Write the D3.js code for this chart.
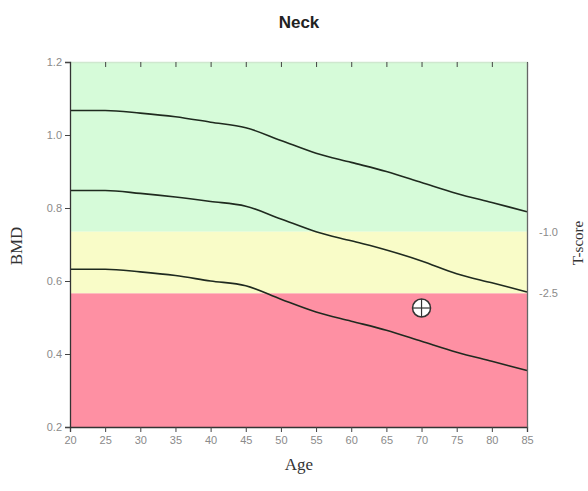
<!DOCTYPE html>
<html><head><meta charset="utf-8">
<script src="https://cdn.jsdelivr.net/npm/d3@7"></script>
<style>body{margin:0;background:#fff;} svg{display:block;}</style>
</head><body>
<svg id="c" width="588" height="491"></svg>
<script>
const ages = [20,25,30,35,40,45,50,55,60,65,70,75,80,85];
const upperCurve = [1.067,1.067,1.06,1.05,1.035,1.02,0.985,0.95,0.925,0.90,0.87,0.84,0.815,0.79];
const middleCurve = [0.848,0.848,0.84,0.83,0.818,0.805,0.77,0.735,0.71,0.685,0.655,0.62,0.595,0.57];
const lowerCurve = [0.632,0.632,0.625,0.615,0.60,0.587,0.55,0.515,0.49,0.465,0.435,0.405,0.38,0.355];
const bands = [
  {from:0.735, to:1.2, color:"#d6fbd9"},
  {from:0.566, to:0.735, color:"#f9fcc8"},
  {from:0.2, to:0.566, color:"#fe90a3"}
];
const yTicks = [0.2,0.4,0.6,0.8,1.0,1.2];
const yTickLabels = ["0.2","0.4","0.6","0.8","1.0","1.2"];
const tScoreTicks = [0.735, 0.566];
const tScoreLabels = ["-1.0","-2.5"];
const patient = {age:70, bmd:0.526};

const svg = d3.select("#c");
const L=70,R=527,T=62,B=427;
const x = d3.scaleLinear().domain([20,85]).range([L,R]);
const y = d3.scaleLinear().domain([0.2,1.2]).range([B,T]);

svg.selectAll("rect.band").data(bands).enter().append("rect")
  .attr("x",L).attr("width",R-L)
  .attr("y",d=>y(d.to)).attr("height",d=>y(d.from)-y(d.to))
  .attr("fill",d=>d.color);

const line = d3.line().x((d,i)=>x(ages[i])).y(d=>y(d)).curve(d3.curveMonotoneX);
[upperCurve,middleCurve,lowerCurve].forEach(c=>{
  svg.append("path").attr("d",line(c)).attr("fill","none").attr("stroke","#1f2a1f").attr("stroke-width",1.6);
});

// axes
const gx = svg.append("g").attr("transform",`translate(0,${B})`)
  .call(d3.axisBottom(x).tickValues(ages).tickSize(5).tickPadding(4).tickFormat(d3.format("d")));
const gxTop = svg.append("g").attr("transform",`translate(0,${T})`)
  .call(d3.axisBottom(x).tickValues(ages).tickSize(5).tickFormat(""));
const gy = svg.append("g").attr("transform",`translate(${L},0)`)
  .call(d3.axisLeft(y).tickValues(yTicks).tickSize(5).tickPadding(3).tickFormat((d,i)=>yTickLabels[i]));
const gr = svg.append("g").attr("transform",`translate(${R},0)`)
  .call(d3.axisRight(y).tickValues(tScoreTicks).tickSize(0).tickPadding(12).tickFormat((d,i)=>tScoreLabels[i]));
[gx,gy,gr,gxTop].forEach(g=>{
  g.selectAll("text").attr("fill","#8a8a8a").style("font-family","'Liberation Sans',Arial,sans-serif").style("font-size","11px");
  g.selectAll("line").attr("stroke","#444");
  g.select(".domain").attr("stroke","#333").attr("stroke-width",1.3);
});
gxTop.select(".domain").attr("stroke","#cfe8cf");
gr.select(".domain").attr("stroke","#666");

// patient marker
const px = x(patient.age), py = y(patient.bmd);
svg.append("circle").attr("cx",px).attr("cy",py).attr("r",9).attr("fill","#fff").attr("stroke","#333").attr("stroke-width",1.5);
svg.append("line").attr("x1",px-9).attr("x2",px+9).attr("y1",py).attr("y2",py).attr("stroke","#333").attr("stroke-width",1.2);
svg.append("line").attr("x1",px).attr("x2",px).attr("y1",py-9).attr("y2",py+9).attr("stroke","#333").attr("stroke-width",1.2);

// titles
svg.append("text").attr("x",299).attr("y",28).attr("text-anchor","middle")
  .style("font-family","'Liberation Sans',Arial,sans-serif").style("font-weight","bold").style("font-size","17px").attr("fill","#222").text("Neck");
svg.append("text").attr("x",299).attr("y",470).attr("text-anchor","middle")
  .style("font-family","'Liberation Serif','Times New Roman',serif").style("font-size","17px").attr("fill","#333").text("Age");
svg.append("text").attr("transform","translate(22,246) rotate(-90)").attr("text-anchor","middle")
  .style("font-family","'Liberation Serif','Times New Roman',serif").style("font-size","17px").attr("fill","#333").text("BMD");
svg.append("text").attr("transform","translate(583,243) rotate(-90)").attr("text-anchor","middle")
  .style("font-family","'Liberation Serif','Times New Roman',serif").style("font-size","15px").attr("fill","#333").text("T-score");
</script>
</body></html>
